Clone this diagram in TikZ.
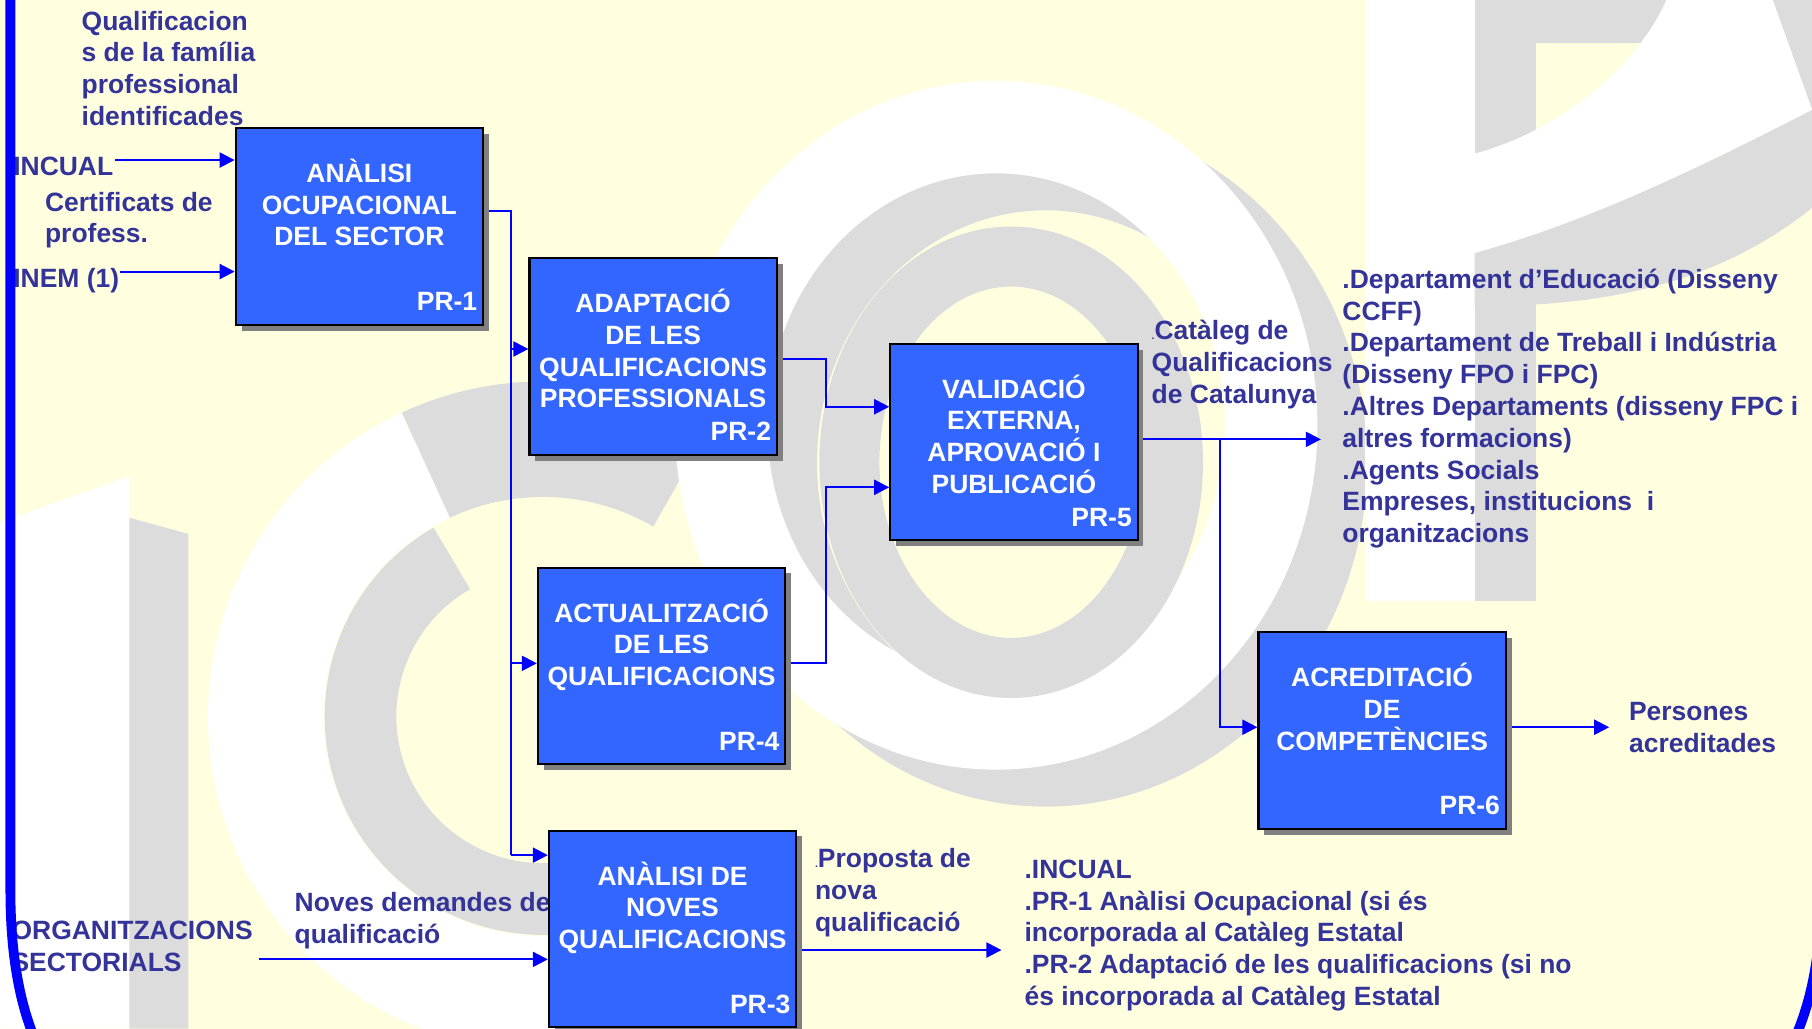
\documentclass[tikz,border=0pt]{standalone}
\usepackage{fontspec}
\setmainfont{Liberation Sans}
\usetikzlibrary{arrows.meta,shadows}
\definecolor{bgyellow}{RGB}{255,255,224}
\definecolor{wmgray}{RGB}{220,220,220}
\definecolor{navytext}{RGB}{51,51,153}
\definecolor{boxblue}{RGB}{51,102,255}
\definecolor{lineblue}{RGB}{0,0,255}
\definecolor{shadowgray}{RGB}{128,128,128}
\newcommand\hstrut{\rule{0pt}{24pt}}
\newcommand\tinydot{{\fontsize{9}{9}\selectfont.}}
\begin{document}
\begin{tikzpicture}[x=1pt,y=-1pt,
  procbox/.style={draw=black, line width=1.9pt, fill=boxblue, minimum width=214pt,
    minimum height=170pt, inner sep=0pt,
    drop shadow={shadow xshift=5pt, shadow yshift=-5pt, fill=shadowgray, opacity=1}},
  boxtxt/.style={anchor=north, inner sep=0pt, outer sep=0pt, align=center, text=white,
    font=\bfseries\fontsize{22.9}{27.4}\selectfont},
  prtxt/.style={anchor=base east, inner sep=0pt, outer sep=0pt, text=white,
    font=\bfseries\fontsize{22.9}{27.4}\selectfont},
  lbl/.style={anchor=north west, inner sep=0pt, outer sep=0pt, align=left, text=navytext,
    font=\bfseries\fontsize{22.9}{27.5}\selectfont},
  conn/.style={draw=lineblue, line width=1.8pt, -{Triangle[length=13pt,width=13pt]}},
  wire/.style={draw=lineblue, line width=1.8pt},
  frame/.style={draw=lineblue, line width=8.5pt}]
\useasboundingbox (0,0) rectangle (1568,890);
\fill[bgyellow] (0,0) rectangle (1568,890);
% watermark (faint logo)
\begin{scope}
\clip (0,0) rectangle (1568,890);
% I
\fill[white] (0,452) -- (112,412) -- (112,890) -- (0,890) -- cycle;
\fill[wmgray] (112,448) -- (163,462) -- (163,890) -- (112,890) -- cycle;
% C
\draw[white, line width=100pt] (470,620) ++(-115:240) arc[start angle=-115, end angle=-275, radius=240];
\draw[wmgray, line width=100pt] (470,620) ++(-60:240) arc[start angle=-60, end angle=-115, radius=240];
\draw[wmgray, line width=62pt] (470,620) ++(-120:158) arc[start angle=-120, end angle=-275, radius=158];
% @ : gray shadow ring, white ring, inner gray ring
\draw[wmgray, line width=80pt] (905,400) ellipse[x radius=238, y radius=258];
\draw[white, line width=80pt] (862,368) ellipse[x radius=238, y radius=258];
\draw[wmgray, line width=52pt] (875,400) ellipse[x radius=140, y radius=178];
% P
\fill[wmgray] (1276,0) rectangle (1442,37);
\fill[white] (1181,0) rectangle (1276,520);
\fill[wmgray] (1276,37) rectangle (1329,520);
\fill[wmgray] (1534,0) -- (1568,0) -- (1568,95) -- cycle;
\fill[wmgray] (1276,219) .. controls (1380,190) and (1480,140) .. (1568,95) -- (1568,180)
  .. controls (1480,250) and (1380,265) .. (1276,265) -- cycle;
\fill[white] (1276,133) .. controls (1360,110) and (1420,50) .. (1442,0) -- (1534,0) -- (1568,95)
  .. controls (1480,140) and (1380,190) .. (1276,219) -- cycle;
\end{scope}
% outer labels
\node[lbl] (lq) at (70.7,2) {\hstrut Qualificacion\\s de la família\\professional\\identificades};
\node[lbl] (lincual) at (11.5,128.3) {\hstrut INCUAL};
\node[lbl] (lcert) at (39,158.6) {\hstrut Certificats de\\profess.};
\node[lbl] (linem) at (11.5,224.7) {\hstrut INEM (1)};
\node[lbl] (lorg) at (10,789.4) {\hstrut ORGANITZACIONS\\SECTORIALS};
\node[lbl] (lnov) at (255,764.9) {\hstrut Noves demandes de\\qualificació};
\node[lbl] (lprop) at (705.3,726.8) {\hstrut\tinydot Proposta de\\nova\\qualificació};
\node[lbl] (linc2) at (886.6,736.1) {\hstrut .INCUAL\\.PR-1 Anàlisi Ocupacional (si és\\incorporada al Catàleg Estatal\\.PR-2 Adaptació de les qualificacions (si no\\és incorporada al Catàleg Estatal};
\node[lbl] (lcat) at (996.6,270.2) {\hstrut\tinydot Catàleg de\\Qualificacions\\de Catalunya};
\node[lbl] (ldep) at (1161.7,225.5) {\hstrut .Departament d’Educació (Disseny\\CCFF)\\.Departament de Treball i Indústria\\(Disseny FPO i FPC)\\.Altres Departaments (disseny FPC i\\altres formacions)\\.Agents Socials\\Empreses, institucions \ i\\organitzacions};
\node[lbl] (lpers) at (1409.7,599.6) {\hstrut Persones\\acreditades};
% boxes
\node[procbox] (p1) at (311,196) {};
\node[procbox] (p2) at (565.2,308.6) {};
\node[procbox] (p5) at (877.4,382.6) {};
\node[procbox] (p4) at (572.5,576.2) {};
\node[procbox] (p3) at (582,803.8) {};
\node[procbox] (p6) at (1196,632.2) {};
% box texts
\node[boxtxt] (t1) at ([yshift=-24pt]p1.north) {\hstrut ANÀLISI\\OCUPACIONAL\\DEL SECTOR};
\node[boxtxt] (t2) at ([yshift=-24pt]p2.north) {\hstrut ADAPTACIÓ\\DE LES\\QUALIFICACIONS\\PROFESSIONALS};
\node[boxtxt] (t5) at ([yshift=-24pt]p5.north) {\hstrut VALIDACIÓ\\EXTERNA,\\APROVACIÓ I\\PUBLICACIÓ};
\node[boxtxt] (t4) at ([yshift=-24pt]p4.north) {\hstrut ACTUALITZACIÓ\\DE LES\\QUALIFICACIONS};
\node[boxtxt] (t3) at ([yshift=-24pt]p3.north) {\hstrut ANÀLISI DE\\NOVES\\QUALIFICACIONS};
\node[boxtxt] (t6) at ([yshift=-24pt]p6.north) {\hstrut ACREDITACIÓ\\DE\\COMPETÈNCIES};
\node[prtxt] (r1) at ([xshift=-6pt,yshift=13pt]p1.south east) {PR-1};
\node[prtxt] (r2) at ([xshift=-6pt,yshift=13pt]p2.south east) {PR-2};
\node[prtxt] (r5) at ([xshift=-6pt,yshift=13pt]p5.south east) {PR-5};
\node[prtxt] (r4) at ([xshift=-6pt,yshift=13pt]p4.south east) {PR-4};
\node[prtxt] (r3) at ([xshift=-6pt,yshift=13pt]p3.south east) {PR-3};
\node[prtxt] (r6) at ([xshift=-6pt,yshift=13pt]p6.south east) {PR-6};
% connectors
\coordinate (p1o) at ([xshift=4pt]p1.east);
\coordinate (p2o) at ([xshift=4pt]p2.east);
\coordinate (p3o) at ([xshift=4pt]p3.east);
\coordinate (p4o) at ([xshift=4pt]p4.east);
\coordinate (p5o) at ([xshift=4pt]p5.east);
\coordinate (p6o) at ([xshift=4pt]p6.east);
\coordinate (inA) at (99.5,138.5);
\coordinate (inB) at (104,235);
\coordinate (inC) at (224,830.2);
\draw[conn] (inA) -- (inA -| p1.west);
\draw[conn] (inB) -- (inB -| p1.west);
\draw[conn] (inC) -- (inC -| p3.west);
\coordinate (tTop) at (442,182.6);
\coordinate (tBot) at (442,740);
\coordinate (tb2) at (442,302);
\coordinate (tb4) at (442,574);
\draw[wire] (p1o |- tTop) -- (tTop) -- (tBot);
\draw[conn] (tb2) -- (tb2 -| p2.west);
\draw[conn] (tb4) -- (tb4 -| p4.west);
\draw[conn] (tBot) -- (tBot -| p3.west);
\coordinate (j1) at (715,310.7);
\coordinate (j2) at (715,352);
\coordinate (j3) at (715,574);
\coordinate (j4) at (715,421.7);
\draw[conn] (p2o |- j1) -- (j1) -- (j2) -- (j2 -| p5.west);
\draw[conn] (p4o |- j3) -- (j3) -- (j4) -- (j4 -| p5.west);
\coordinate (o5) at (1143,380.2);
\coordinate (b5) at (1055.6,380.2);
\coordinate (b6) at (1055.6,629.3);
\draw[conn] (p5o |- o5) -- (o5);
\draw[conn] (b5) -- (b6) -- (b6 -| p6.west);
\coordinate (o6) at (1392.5,629.3);
\draw[conn] (p6o |- o6) -- (o6);
\coordinate (o3) at (866.6,822.1);
\draw[conn] (p3o |- o3) -- (o3);
% frame
\draw[frame] (9,-20) -- (9,770) .. controls (9,830) and (18,880) .. (40,920);
\draw[frame] (1576,700) -- (1576,770) .. controls (1576,830) and (1566,880) .. (1542,920);
\end{tikzpicture}
\end{document}
